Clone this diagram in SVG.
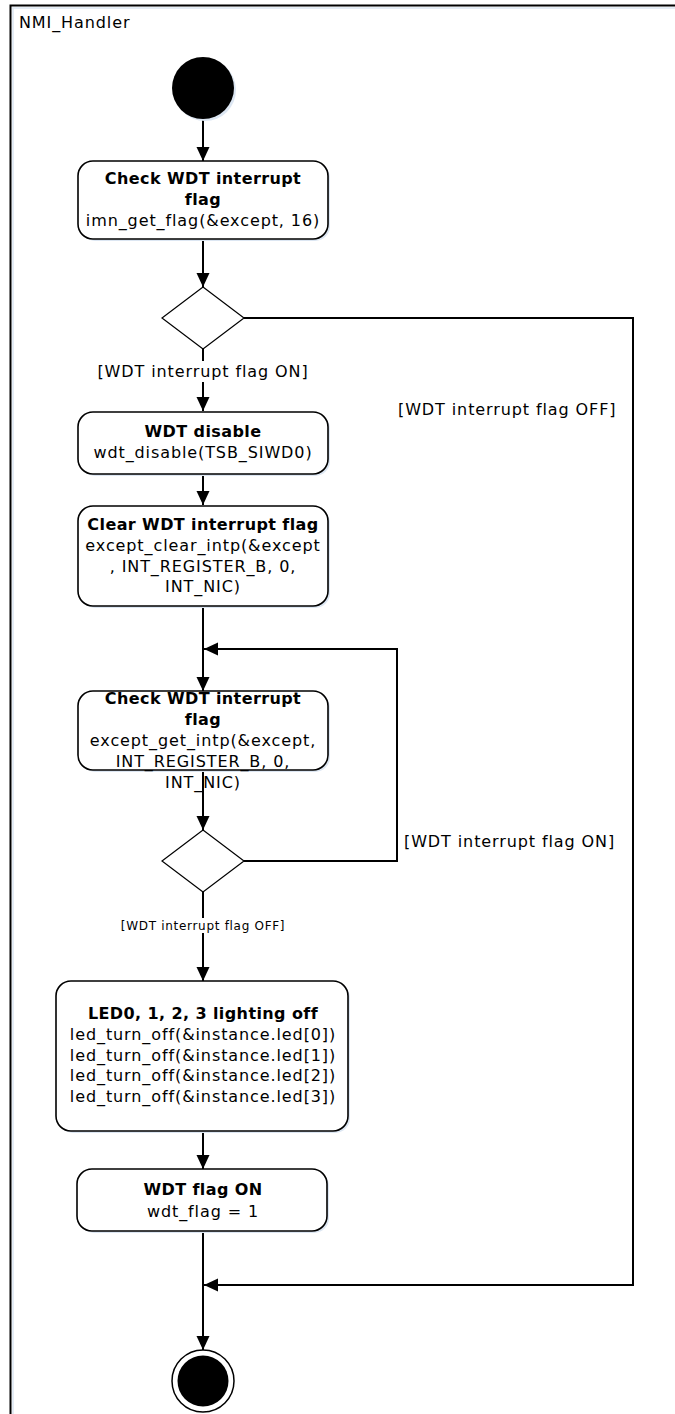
<svg xmlns="http://www.w3.org/2000/svg" width="675" height="1414" viewBox="0 0 675 1414">
<defs>
<marker id="arr" markerUnits="userSpaceOnUse" markerWidth="14" markerHeight="14" refX="14" refY="7" orient="auto">
<path d="M0,0.5 L14,7 L0,13.5 z" fill="#000"/>
</marker>
<style>
.t{font-family:"DejaVu Sans","Liberation Sans",sans-serif;font-size:16px;letter-spacing:0.9px;fill:#000;text-anchor:middle}
.b{font-weight:bold;letter-spacing:0.4px}
.lbl{font-family:"DejaVu Sans","Liberation Sans",sans-serif;font-size:16px;letter-spacing:0.9px;fill:#000}
.sm{font-family:"DejaVu Sans","Liberation Sans",sans-serif;font-size:12px;letter-spacing:0.7px;fill:#000;text-anchor:middle}
.node{fill:#fff;stroke:#000;stroke-width:1.6}
.sh{fill:#dce6f2;stroke:none}
.dia{fill:#fff;stroke:#000;stroke-width:1.2}
.c{fill:none;stroke:#000;stroke-width:2}
</style>
</defs>
<rect width="675" height="1414" fill="#fff"/>
<g id="frame">
<path d="M10.5,1414 L10.5,5.5 L675,5.5" fill="none" stroke="#000" stroke-width="2"/>
<path d="M12,8 L675,8 M13,8 L13,1414" fill="none" stroke="#dce6f2" stroke-width="1.5"/>
<text x="19" y="28" class="lbl">NMI_Handler</text>
</g>
<g id="connectors">
<path class="c" d="M203,119 L203,161" marker-end="url(#arr)"/>
<path class="c" d="M203,239 L203,287" marker-end="url(#arr)"/>
<path class="c" d="M203,349 L203,411" marker-end="url(#arr)"/>
<path class="c" d="M203,474 L203,505" marker-end="url(#arr)"/>
<path class="c" d="M203,606 L203,691" marker-end="url(#arr)"/>
<path class="c" d="M244,861 L397,861 L397,649 L204,649" marker-end="url(#arr)"/>
<path class="c" d="M203,771 L203,830" marker-end="url(#arr)"/>
<path class="c" d="M203,892 L203,981" marker-end="url(#arr)"/>
<path class="c" d="M203,1131 L203,1169" marker-end="url(#arr)"/>
<path class="c" d="M203,1232 L203,1350" marker-end="url(#arr)"/>
<path class="c" d="M244,318 L633,318 L633,1285 L204,1285" marker-end="url(#arr)"/>
<rect x="94" y="361" width="218" height="21" fill="#fff"/>
<text x="203" y="377" class="t">[WDT interrupt flag ON]</text>
<text x="398" y="415" class="lbl">[WDT interrupt flag OFF]</text>
<text x="404" y="847" class="lbl">[WDT interrupt flag ON]</text>
<rect x="119" y="918" width="168" height="15" fill="#fff"/>
<text x="203" y="930" class="sm">[WDT interrupt flag OFF]</text>
</g>
<g id="start">
<circle cx="205" cy="90" r="31" fill="#dce6f2"/>
<circle cx="203" cy="88" r="31" fill="#000"/>
</g>
<g id="n1">
<rect class="sh" x="80" y="163" width="250" height="78" rx="15"/>
<rect class="node" x="78" y="161" width="250" height="78" rx="15"/>
<text class="t b" x="203" y="184">Check WDT interrupt</text>
<text class="t b" x="203" y="205">flag</text>
<text class="t" x="203" y="226">imn_get_flag(&amp;except, 16)</text>
</g>
<g id="d1">
<path class="dia" d="M203,287 L244,318 L203,349 L162,318 Z"/>
</g>
<g id="n2">
<rect class="sh" x="80" y="414" width="250" height="62" rx="15"/>
<rect class="node" x="78" y="412" width="250" height="62" rx="15"/>
<text class="t b" x="203" y="437">WDT disable</text>
<text class="t" x="203" y="458">wdt_disable(TSB_SIWD0)</text>
</g>
<g id="n3">
<rect class="sh" x="80" y="508" width="250" height="100" rx="15"/>
<rect class="node" x="78" y="506" width="250" height="100" rx="15"/>
<text class="t b" x="203" y="530">Clear WDT interrupt flag</text>
<text class="t" x="203" y="551">except_clear_intp(&amp;except</text>
<text class="t" x="203" y="572">, INT_REGISTER_B, 0,</text>
<text class="t" x="203" y="592">INT_NIC)</text>
</g>
<g id="n4">
<rect class="sh" x="80" y="693" width="250" height="79" rx="15"/>
<rect class="node" x="78" y="691" width="250" height="79" rx="15"/>
<text class="t b" x="203" y="704">Check WDT interrupt</text>
<text class="t b" x="203" y="725">flag</text>
<text class="t" x="203" y="746">except_get_intp(&amp;except,</text>
<text class="t" x="203" y="767">INT_REGISTER_B, 0,</text>
<text class="t" x="203" y="788">INT_NIC)</text>
</g>
<g id="d2">
<path class="dia" d="M203,830 L244,861 L203,892 L162,861 Z"/>
</g>
<g id="n5">
<rect class="sh" x="58" y="983" width="292" height="150" rx="15"/>
<rect class="node" x="56" y="981" width="292" height="150" rx="15"/>
<text class="t b" x="203" y="1019">LED0, 1, 2, 3 lighting off</text>
<text class="t" x="203" y="1040">led_turn_off(&amp;instance.led[0])</text>
<text class="t" x="203" y="1061">led_turn_off(&amp;instance.led[1])</text>
<text class="t" x="203" y="1081">led_turn_off(&amp;instance.led[2])</text>
<text class="t" x="203" y="1102">led_turn_off(&amp;instance.led[3])</text>
</g>
<g id="n6">
<rect class="sh" x="79" y="1171" width="250" height="62" rx="15"/>
<rect class="node" x="77" y="1169" width="250" height="62" rx="15"/>
<text class="t b" x="203" y="1195">WDT flag ON</text>
<text class="t" x="203" y="1217">wdt_flag = 1</text>
</g>
<g id="end">
<circle cx="203" cy="1381" r="31" fill="#fff" stroke="#000" stroke-width="1.5"/>
<circle cx="203" cy="1381" r="25.5" fill="#000"/>
</g>
</svg>
